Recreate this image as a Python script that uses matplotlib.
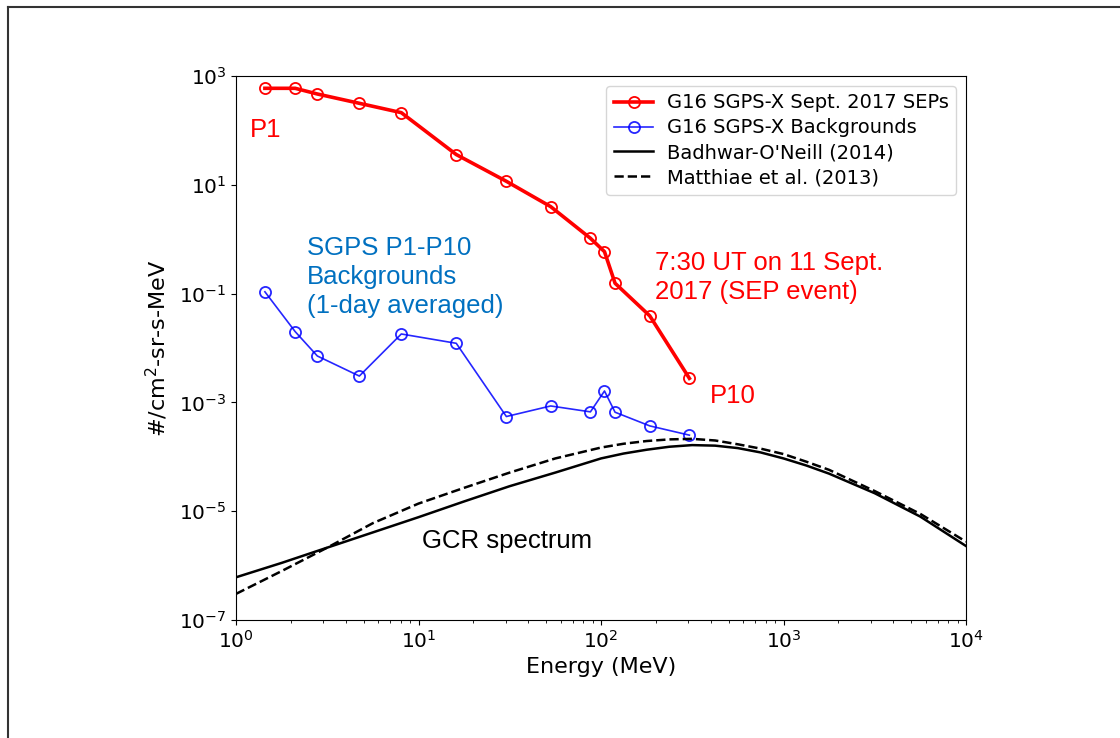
import matplotlib
matplotlib.use("Agg")
import matplotlib.pyplot as plt
from matplotlib.lines import Line2D

# ---- data ----
sep_energy = [1.44, 2.11, 2.79, 4.74, 8.05, 16.1, 30.3, 53.0, 87.5, 104.5, 119.4, 185, 305]
sep_flux = [594, 594, 467, 315, 212, 36, 11.6, 3.97, 1.04, 0.59, 0.155, 0.039, 0.00277]

bkg_energy = [1.44, 2.11, 2.79, 4.74, 8.05, 16.1, 30.3, 53.0, 87.5, 104.5, 119.4, 185, 305]
bkg_flux = [0.108, 0.020, 0.00713, 0.00305, 0.0181, 0.0122, 0.00055, 0.00086,
            0.00067, 0.00162, 0.00066, 0.00037, 0.00025]

gcr_energy = [1.0, 1.78, 3.16, 5.62, 10.0, 17.8, 31.6, 56.2, 100, 133, 178, 237,
              316, 422, 562, 750, 1000, 1334, 1778, 3162, 5623, 10000]
bon_log_flux = [-6.215, -5.95, -5.67, -5.39, -5.11, -4.82, -4.54, -4.29, -4.03,
                -3.94, -3.87, -3.815, -3.785, -3.795, -3.84, -3.92, -4.03, -4.16,
                -4.31, -4.67, -5.10, -5.64]
mat_log_flux = [-6.52, -6.10, -5.67, -5.22, -4.86, -4.57, -4.29, -4.03, -3.83,
                -3.76, -3.71, -3.68, -3.67, -3.70, -3.77, -3.85, -3.95, -4.09,
                -4.24, -4.63, -5.05, -5.56]

bon_flux = [10 ** v for v in bon_log_flux]
mat_flux = [10 ** v for v in mat_log_flux]

legend_labels = ["G16 SGPS-X Sept. 2017 SEPs", "G16 SGPS-X Backgrounds",
                 "Badhwar-O'Neill (2014)", "Matthiae et al. (2013)"]

# ---- figure ----
fig = plt.figure(figsize=(11.2, 7.38), dpi=100)
ax = fig.add_axes([236 / 1120, 1 - 620 / 738, 730 / 1120, 544 / 738])

ax.plot(sep_energy, sep_flux, color="#ff0000", lw=2.6, marker="o", ms=8,
        mfc="none", mew=1.3, label=legend_labels[0])
ax.plot(bkg_energy, bkg_flux, color="#0000ff", lw=1.2, marker="o", ms=8,
        mfc="none", mew=1.3, alpha=0.85, label=legend_labels[1])
ax.plot(gcr_energy, bon_flux, color="black", lw=1.8, label=legend_labels[2])
ax.plot(gcr_energy, mat_flux, color="black", lw=1.8, ls="--", label=legend_labels[3])

ax.set_xscale("log")
ax.set_yscale("log")
ax.set_xlim(1, 1e4)
ax.set_ylim(1e-7, 1e3)
ax.set_yticks([1e-7, 1e-5, 1e-3, 1e-1, 1e1, 1e3])
ax.tick_params(axis="both", labelsize=14.5)
ax.minorticks_on()
ax.tick_params(axis="y", which="minor", left=False)

ax.set_xlabel("Energy (MeV)", fontsize=16)
ax.set_ylabel("#/cm$^2$-sr-s-MeV", fontsize=16, labelpad=6)

ax.legend(loc="upper right", fontsize=14, handlelength=2.0, handletextpad=0.7,
          labelspacing=0.3, borderpad=0.4)

arial = "Liberation Sans"
fs = 18.5
ax.text(1.19, 101, "P1", color="#ff0000", fontsize=fs, family=arial, va="center")
ax.text(2.45, 0.20, "SGPS P1-P10\nBackgrounds\n(1-day averaged)", color="#0070c0",
        fontsize=fs, family=arial, va="center", linespacing=1.25)
ax.text(198, 0.20, "7:30 UT on 11 Sept.\n2017 (SEP event)", color="#ff0000",
        fontsize=fs, family=arial, va="center", linespacing=1.25)
ax.text(396, 0.00131, "P10", color="#ff0000", fontsize=fs, family=arial, va="center")
ax.text(10.45, 2.83e-6, "GCR spectrum", color="black", fontsize=fs, family=arial,
        va="center")

# partial border of the original screenshot (top and left edges)
fig.add_artist(Line2D([8 / 1120, 8 / 1120], [0, 1 - 7 / 738], color="#333333", lw=1.5))
fig.add_artist(Line2D([8 / 1120, 1], [1 - 7 / 738, 1 - 7 / 738], color="#333333", lw=1.5))

fig.savefig("out.png", dpi=100)
